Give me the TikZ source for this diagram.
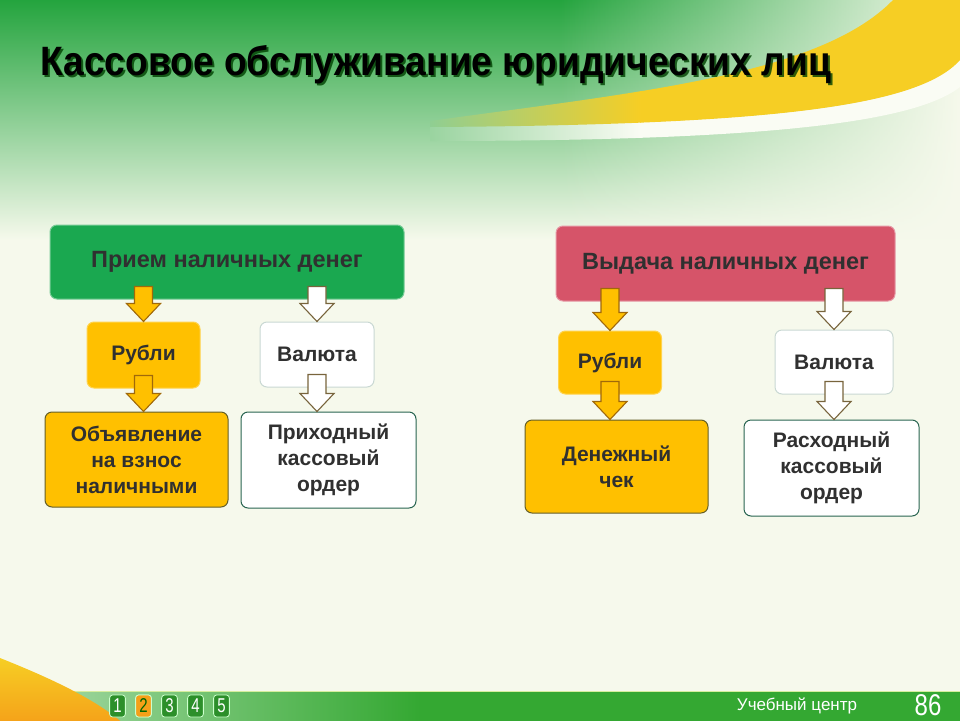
\documentclass[tikz,border=0pt]{standalone}
\usepackage{fontspec}
\setmainfont{Liberation Sans}
\usetikzlibrary{calc,fadings}

\definecolor{base}{RGB}{246,249,236}
\definecolor{leaf}{RGB}{36,164,62}
\definecolor{headgreen}{RGB}{26,168,80}
\definecolor{headred}{RGB}{214,84,105}
\definecolor{gold}{RGB}{255,192,0}
\definecolor{swoosh}{RGB}{246,206,36}
\definecolor{band}{RGB}{250,252,244}
\definecolor{ink}{RGB}{48,48,48}
\definecolor{rim}{RGB}{160,105,10}
\definecolor{whiterim}{RGB}{120,100,60}
\definecolor{teal}{RGB}{40,100,80}
\definecolor{olive}{RGB}{100,95,40}
\definecolor{footgreen}{RGB}{52,168,50}
\definecolor{orange}{RGB}{245,160,25}

%% block arrow: style, column node, from node, to node
\newcommand\blockarrow[4]{%
  \draw[#1] ($(#2.center |- #3.south)+(-9,-13)$)
  -- ($(#2.center |- #4.north)+(-9,-18)$) -- ++(-8,0)
  -- (#2.center |- #4.north) -- ++(17,-18) -- ++(-8,0)
  -- ($(#2.center |- #3.south)+(9,-13)$) -- cycle;}

\tikzset{
  box/.style={rounded corners=7pt, align=center, text=ink, inner sep=0pt,
    line width=1pt, font=\fontsize{21}{26}\selectfont\bfseries},
  greenhead/.style={box, fill=headgreen, draw=headgreen!60!white,
    font=\fontsize{23.5}{26}\selectfont\bfseries},
  redhead/.style={box, fill=headred, draw=headred!60!white,
    font=\fontsize{23.5}{26}\selectfont\bfseries},
  rubbox/.style={box, fill=gold, draw=gold!70!white},
  valbox/.style={box, fill=white, draw=teal!25!white},
  rubdoc/.style={box, fill=gold, draw=olive},
  valdoc/.style={box, fill=white, draw=teal},
  yarrow/.style={fill=gold, draw=rim, line width=1.1pt, line join=miter},
  warrow/.style={fill=white, draw=whiterim, line width=1.1pt, line join=miter},
  pagebtn/.style={rounded corners=3pt, fill=footgreen!85!black, draw=green!20!white,
    line width=0.8pt, minimum width=21pt, minimum height=22pt, inner sep=0pt,
    text=white, font=\fontsize{20}{20}\selectfont, xscale=0.75}
}

\begin{document}
\begin{tikzpicture}[x=1pt,y=-1pt]
\useasboundingbox (0,0) rectangle (960,720);

  %% background
  \begin{scope}
    \clip (0,0) rectangle (960,720);
    \fill[base] (0,0) rectangle (960,725);
    \shade[top color=leaf, bottom color=base] (0,0) rectangle (960,240);
    \fill[base, path fading=west] (560,0) rectangle (960,240);
    %% white band under the swoosh
    \begin{scope}
      \clip (430,126) .. controls (780,125) and (920,105) .. (960,60)
      -- (960,87) .. controls (915,122) and (770,141) .. (430,141) -- cycle;
      \fill[band] (640,0) rectangle (960,150);
      \shade[left color=leaf!45!base, right color=band] (425,60) rectangle (641,150);
    \end{scope}
    %% yellow swoosh
    \begin{scope}
      \clip (430,121) .. controls (640,92) and (820,75) .. (893,0)
      -- (960,0) -- (960,60) .. controls (920,105) and (780,125) .. (430,127) -- cycle;
      \fill[swoosh] (640,-5) rectangle (965,150);
      \shade[left color=leaf!50!base, right color=swoosh] (425,60) rectangle (641,150);
    \end{scope}
    %% footer
    \shade[left color=footgreen!40!white, right color=footgreen] (0,692) rectangle (420,725);
    \fill[footgreen] (419,692) rectangle (960,725);
    \draw[yellow!60!green!40!white, line width=1.2pt] (0,691.5) -- (960,691.5);
    %% orange corner
    \shade[top color=swoosh, bottom color=orange]
    (0,658) .. controls (45,676) and (95,698) .. (125,725) -- (0,725) -- cycle;
  \end{scope}

  %% title
  \node[anchor=base west, text=green!25!black, opacity=0.8, xscale=0.907,
    font=\fontsize{41}{41}\selectfont\bfseries] at (39,77)
    {Кассовое обслуживание юридических лиц};
  \node[anchor=base west, text=black, xscale=0.907,
    font=\fontsize{41}{41}\selectfont\bfseries] (title) at (37,75)
    {Кассовое обслуживание юридических лиц};

  %% left: priem
  \node[greenhead, minimum width=354pt, minimum height=74pt] (priem) at (227,262)
    {Прием наличных денег};
  \node[rubbox, minimum width=113pt, minimum height=66pt] (rubA) at (143.5,355) {Рубли};
  \node[valbox, minimum width=114pt, minimum height=65pt] (valA) at (317,354.5) {Валюта};
  \node[rubdoc, minimum width=183pt, minimum height=95pt] (obj) at (136.5,459.5)
    {Объявление\\на взнос\\наличными};
  \node[valdoc, minimum width=175pt, minimum height=96pt] (prih) at (328.5,460)
    {Приходный\\кассовый\\ордер};

  %% right: vydacha
  \node[redhead, minimum width=339pt, minimum height=75pt] (vyd) at (725.5,263.5)
    {Выдача наличных денег};
  \node[rubbox, minimum width=103pt, minimum height=63pt] (rubB) at (610,362.5) {Рубли};
  \node[valbox, minimum width=118pt, minimum height=64pt] (valB) at (834,362) {Валюта};
  \node[rubdoc, minimum width=183pt, minimum height=93pt] (chek) at (616.5,466.5)
    {Денежный\\чек};
  \node[valdoc, minimum width=175pt, minimum height=96pt] (rash) at (831.5,468)
    {Расходный\\кассовый\\ордер};

  %% arrows
  \blockarrow{yarrow}{rubA}{priem}{rubA}
  \blockarrow{warrow}{valA}{priem}{valA}
  \blockarrow{yarrow}{rubA}{rubA}{obj}
  \blockarrow{warrow}{valA}{valA}{prih}
  \blockarrow{yarrow}{rubB}{vyd}{rubB}
  \blockarrow{warrow}{valB}{vyd}{valB}
  \blockarrow{yarrow}{rubB}{rubB}{chek}
  \blockarrow{warrow}{valB}{valB}{rash}

  %% footer
  \foreach \n/\x in {1/117.5,2/143.5,3/169.5,4/195.5,5/221.5}
    \node[pagebtn] (btn\n) at (\x,706) {\n};
  \node[pagebtn, fill=orange, text=green!40!black] (cur) at (143.5,706) {2};
  \node[text=white, font=\fontsize{17}{17}\selectfont] (centre) at (797,706) {Учебный центр};
  \node[text=white, font=\fontsize{30}{30}\selectfont, xscale=0.8] (page) at (928,705) {86};

\end{tikzpicture}
\end{document}
